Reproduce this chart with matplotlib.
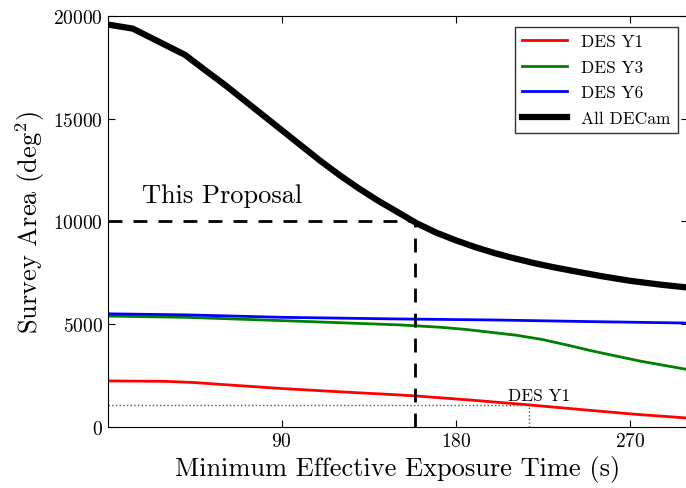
import matplotlib
matplotlib.use("Agg")
import matplotlib.pyplot as plt

plt.rcParams['font.family'] = 'serif'
plt.rcParams['font.serif'] = ['cmr10']
plt.rcParams['mathtext.fontset'] = 'cm'
plt.rcParams['axes.formatter.use_mathtext'] = True

# Curvas de area vs tiempo minimo de exposicion
t_y1 = [0, 30, 45, 60, 90, 120, 151, 159, 190, 218, 250, 272, 300]
area_y1 = [2230, 2210, 2150, 2050, 1860, 1700, 1545, 1500, 1280, 1060, 790, 610, 420]

t_y3 = [0, 40, 90, 151, 172, 185, 198, 211, 224, 237, 250, 275, 300]
area_y3 = [5390, 5330, 5170, 4960, 4845, 4740, 4600, 4460, 4260, 3990, 3700, 3200, 2780]

t_y6 = [0, 40, 90, 150, 200, 250, 300]
area_y6 = [5500, 5450, 5330, 5250, 5200, 5120, 5050]

t_all = [0, 13, 40, 50, 60, 70, 80, 90, 100, 110, 120, 130, 140, 150, 160,
         170, 180, 190, 200, 210, 220, 230, 240, 255, 270, 285, 300]
area_all = [19600, 19400, 18120, 17400, 16700, 15950, 15200, 14450, 13700,
            12950, 12250, 11600, 11000, 10450, 9900, 9450, 9080, 8750, 8460,
            8210, 7980, 7780, 7600, 7340, 7110, 6930, 6780]

t_prop, area_prop = 159, 10000
t_des, area_des = 218, 1060

fig = plt.figure(figsize=(6.86, 4.89), dpi=100)
ax = fig.add_axes([0.157, 0.1254, 0.846, 0.8392])

ax.plot(t_y1, area_y1, color='red', lw=2, label='DES Y1')
ax.plot(t_y3, area_y3, color='green', lw=2, label='DES Y3')
ax.plot(t_y6, area_y6, color='blue', lw=2, label='DES Y6')
ax.plot(t_all, area_all, color='black', lw=4.5, label='All DECam')

# lineas de la propuesta
ax.plot([0, t_prop], [area_prop, area_prop], color='black', ls='--', lw=2, dashes=(5, 4))
ax.plot([t_prop, t_prop], [0, area_prop], color='black', ls='--', lw=2, dashes=(5, 4))
ax.text(17.5, 10950, 'This Proposal', fontsize=19)

# referencia DES Y1
ax.plot([0, t_des], [area_des, area_des], color='#555555', ls=':', lw=1)
ax.plot([t_des, t_des], [0, area_des], color='#555555', ls=':', lw=1)
ax.text(223, 1130, 'DES Y1', fontsize=12.5, ha='center', va='bottom')

ax.set_xlim(0, 300)
ax.set_ylim(0, 20000)
ax.set_xticks([90, 180, 270])
ax.set_yticks([0, 5000, 10000, 15000, 20000])
ax.tick_params(direction='in', top=True, right=True, labelsize=14, length=5)
ax.set_xlabel('Minimum Effective Exposure Time (s)', fontsize=19)
ax.set_ylabel(r'Survey Area (deg$^2$)', fontsize=19)

leg = ax.legend(loc='upper right', fontsize=12.5, fancybox=False, edgecolor='black',
                handlelength=2.6, labelspacing=0.6, borderaxespad=0.6)
leg.get_frame().set_linewidth(1)

fig.savefig('out.png', dpi=100)
